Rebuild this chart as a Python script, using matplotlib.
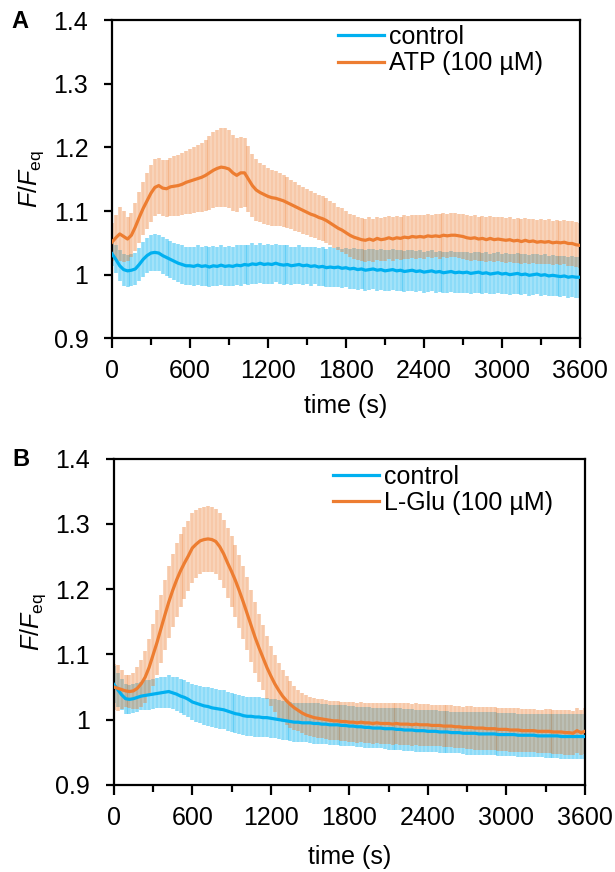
import numpy as np
import matplotlib.pyplot as plt
from matplotlib.ticker import MultipleLocator

plt.rcParams['font.family'] = ['Liberation Sans', 'DejaVu Sans']
plt.rcParams['mathtext.fontset'] = 'custom'
plt.rcParams['mathtext.rm'] = 'Liberation Sans'
plt.rcParams['mathtext.it'] = 'Liberation Sans:italic'

# sampling grid of the recordings (s)
time_s = np.arange(0, 3601, 30)

# panel A: control vs ATP (100 uM)
ctrl_a = [
    1.033, 1.024, 1.014, 1.008, 1.006, 1.007, 1.009, 1.016, 1.024, 1.030,
    1.034, 1.035, 1.034, 1.030, 1.027, 1.024, 1.021, 1.018, 1.016, 1.014,
    1.014, 1.013, 1.015, 1.013, 1.014, 1.012, 1.014, 1.013, 1.015, 1.013,
    1.014, 1.013, 1.015, 1.014, 1.016, 1.015, 1.017, 1.016, 1.018, 1.016,
    1.017, 1.016, 1.018, 1.016, 1.015, 1.016, 1.014, 1.015, 1.016, 1.014,
    1.015, 1.013, 1.014, 1.012, 1.013, 1.011, 1.012, 1.011, 1.012, 1.010,
    1.011, 1.009, 1.010, 1.008, 1.009, 1.007, 1.008, 1.009, 1.007, 1.008,
    1.006, 1.007, 1.008, 1.006, 1.007, 1.005, 1.006, 1.007, 1.005, 1.006,
    1.004, 1.005, 1.006, 1.004, 1.005, 1.003, 1.004, 1.005, 1.003, 1.004,
    1.003, 1.004, 1.002, 1.003, 1.004, 1.002, 1.003, 1.001, 1.002, 1.003,
    1.001, 1.002, 1.000, 1.001, 1.002, 1.000, 1.001, 0.999, 1.000, 1.001,
    0.999, 1.000, 0.998, 0.999, 0.998, 0.997, 0.998, 0.996, 0.997, 0.996,
    0.996]
ctrl_a_err = [
    .020, .022, .024, .025, .025, .025, .025, .026, .027, .028,
    .029, .029, .029, .029, .029, .029, .029, .030, .030, .030,
    .030, .030, .031, .031, .031, .031, .031, .031, .031, .031,
    .031, .031, .031, .032, .031, .031, .032, .031, .031, .031,
    .031, .031, .030, .030, .031, .030, .030, .029, .030, .030,
    .029, .030, .029, .030, .030, .030, .031, .031, .031, .031,
    .031, .032, .032, .032, .032, .032, .032, .032, .032, .032,
    .032, .032, .032, .032, .032, .032, .032, .032, .032, .032,
    .032, .032, .032, .032, .032, .032, .032, .032, .032, .032,
    .032, .032, .032, .032, .032, .032, .032, .032, .032, .032,
    .032, .032, .032, .032, .032, .032, .032, .032, .032, .032,
    .032, .032, .032, .032, .032, .032, .032, .032, .032, .032,
    .032]
atp_a = [
    1.051, 1.058, 1.064, 1.060, 1.056, 1.062, 1.075, 1.090, 1.104, 1.116,
    1.128, 1.137, 1.140, 1.136, 1.135, 1.138, 1.139, 1.140, 1.142, 1.145,
    1.147, 1.149, 1.151, 1.153, 1.156, 1.160, 1.164, 1.167, 1.169, 1.168,
    1.166, 1.160, 1.156, 1.160, 1.160, 1.150, 1.140, 1.133, 1.129, 1.126,
    1.123, 1.121, 1.120, 1.118, 1.116, 1.113, 1.110, 1.107, 1.104, 1.101,
    1.098, 1.095, 1.093, 1.090, 1.088, 1.085, 1.081, 1.077, 1.073, 1.070,
    1.066, 1.062, 1.059, 1.057, 1.055, 1.054, 1.056, 1.054, 1.057, 1.055,
    1.056, 1.058, 1.056, 1.058, 1.057, 1.059, 1.058, 1.060, 1.059, 1.060,
    1.059, 1.061, 1.060, 1.061, 1.060, 1.062, 1.061, 1.062, 1.062, 1.061,
    1.060, 1.058, 1.057, 1.058, 1.056, 1.057, 1.055, 1.057, 1.055, 1.056,
    1.055, 1.054, 1.055, 1.053, 1.054, 1.052, 1.054, 1.052, 1.053, 1.051,
    1.052, 1.051, 1.052, 1.050, 1.051, 1.050, 1.051, 1.049, 1.049, 1.047,
    1.046]
atp_a_err = [
    .030, .035, .042, .040, .035, .035, .038, .040, .042, .044,
    .045, .045, .044, .044, .045, .046, .047, .048, .049, .050,
    .051, .052, .053, .054, .056, .058, .060, .061, .062, .062,
    .062, .060, .058, .056, .054, .052, .050, .048, .047, .046,
    .045, .044, .043, .042, .041, .040, .039, .038, .037, .037,
    .036, .036, .035, .035, .035, .035, .035, .035, .034, .034,
    .034, .034, .034, .034, .034, .034, .034, .034, .034, .034,
    .034, .034, .034, .034, .034, .034, .034, .034, .034, .034,
    .034, .034, .034, .034, .035, .035, .035, .035, .035, .035,
    .035, .035, .035, .035, .035, .035, .035, .035, .035, .035,
    .035, .035, .035, .035, .035, .035, .035, .035, .035, .035,
    .035, .035, .035, .035, .035, .035, .035, .035, .035, .035,
    .035]

# panel B: control vs L-Glu (100 uM)
ctrl_b = [
    1.054, 1.046, 1.038, 1.032, 1.031, 1.032, 1.034, 1.036, 1.037, 1.038,
    1.039, 1.040, 1.041, 1.042, 1.043, 1.041, 1.039, 1.036, 1.034, 1.031,
    1.027, 1.025, 1.023, 1.021, 1.020, 1.018, 1.017, 1.016, 1.015, 1.013,
    1.011, 1.009, 1.008, 1.006, 1.005, 1.005, 1.004, 1.004, 1.003, 1.003,
    1.002, 1.001, 1.000, 0.999, 0.998, 0.997, 0.996, 0.996, 0.995, 0.995,
    0.995, 0.994, 0.994, 0.993, 0.993, 0.992, 0.992, 0.992, 0.991, 0.991,
    0.990, 0.990, 0.989, 0.989, 0.988, 0.988, 0.987, 0.987, 0.987, 0.986,
    0.986, 0.986, 0.985, 0.985, 0.984, 0.984, 0.984, 0.983, 0.983, 0.983,
    0.982, 0.982, 0.982, 0.981, 0.981, 0.981, 0.980, 0.980, 0.980, 0.979,
    0.979, 0.979, 0.979, 0.978, 0.978, 0.978, 0.978, 0.978, 0.977, 0.977,
    0.977, 0.977, 0.977, 0.976, 0.976, 0.976, 0.976, 0.976, 0.975, 0.975,
    0.975, 0.975, 0.975, 0.975, 0.974, 0.974, 0.974, 0.974, 0.974, 0.974,
    0.974]
ctrl_b_err = [
    .028, .026, .024, .023, .022, .022, .022, .022, .023, .023,
    .023, .023, .024, .024, .025, .025, .026, .026, .027, .027,
    .028, .028, .029, .029, .030, .030, .030, .030, .030, .030,
    .030, .030, .030, .030, .030, .030, .030, .030, .030, .030,
    .030, .030, .030, .030, .030, .030, .030, .030, .030, .030,
    .031, .031, .031, .031, .031, .031, .031, .031, .031, .031,
    .031, .031, .031, .031, .031, .031, .031, .031, .031, .031,
    .032, .032, .032, .032, .032, .032, .032, .032, .032, .032,
    .032, .032, .032, .032, .032, .032, .032, .032, .032, .032,
    .033, .033, .033, .033, .033, .033, .033, .033, .033, .033,
    .033, .033, .033, .033, .033, .033, .033, .033, .033, .033,
    .034, .034, .034, .034, .034, .034, .034, .034, .034, .034,
    .034]
glu_b = [
    1.050, 1.048, 1.046, 1.044, 1.043, 1.044, 1.048, 1.055, 1.065, 1.080,
    1.099, 1.118, 1.139, 1.160, 1.180, 1.198, 1.214, 1.228, 1.240, 1.251,
    1.263, 1.269, 1.274, 1.276, 1.277, 1.276, 1.273, 1.265, 1.254, 1.240,
    1.227, 1.213, 1.197, 1.180, 1.162, 1.144, 1.126, 1.110, 1.095, 1.080,
    1.067, 1.055, 1.045, 1.036, 1.029, 1.023, 1.018, 1.014, 1.010, 1.007,
    1.005, 1.003, 1.002, 1.001, 1.000, 0.999, 0.998, 0.998, 0.997, 0.997,
    0.996, 0.996, 0.995, 0.996, 0.995, 0.995, 0.994, 0.995, 0.994, 0.994,
    0.994, 0.993, 0.994, 0.993, 0.993, 0.993, 0.992, 0.993, 0.992, 0.992,
    0.992, 0.991, 0.991, 0.991, 0.990, 0.990, 0.990, 0.989, 0.989, 0.988,
    0.988, 0.988, 0.987, 0.987, 0.987, 0.986, 0.986, 0.986, 0.985, 0.985,
    0.985, 0.984, 0.984, 0.984, 0.983, 0.983, 0.983, 0.983, 0.982, 0.982,
    0.982, 0.982, 0.981, 0.981, 0.981, 0.980, 0.980, 0.979, 0.983, 0.980,
    0.982]
glu_b_err = [
    .035, .035, .030, .025, .025, .028, .032, .036, .040, .044,
    .048, .050, .052, .054, .055, .056, .056, .056, .055, .054,
    .053, .052, .051, .050, .050, .050, .050, .051, .052, .053,
    .054, .055, .056, .056, .056, .055, .054, .052, .050, .048,
    .046, .044, .042, .040, .038, .036, .034, .032, .031, .030,
    .030, .030, .030, .030, .030, .030, .030, .030, .030, .030,
    .031, .031, .031, .031, .031, .031, .031, .031, .031, .031,
    .032, .032, .032, .032, .032, .032, .032, .032, .032, .032,
    .032, .032, .032, .032, .032, .032, .032, .032, .032, .032,
    .033, .033, .033, .033, .033, .033, .033, .033, .033, .033,
    .033, .033, .033, .033, .033, .033, .033, .033, .033, .033,
    .034, .034, .034, .034, .034, .034, .034, .034, .034, .034,
    .035]

blue = '#00b0f0'
orange = '#ed7d31'
fs = 18

fig = plt.figure(figsize=(6.15, 8.72), dpi=100)
ax_a = fig.add_axes([0.182, 0.612, 0.761, 0.365])
ax_b = fig.add_axes([0.185, 0.100, 0.766, 0.374])

panels = [
    (ax_a, ctrl_a, ctrl_a_err, atp_a, atp_a_err, 'ATP (100 µM)', (0.483, 0.985), -0.175),
    (ax_b, ctrl_b, ctrl_b_err, glu_b, glu_b_err, 'L-Glu (100 µM)', (0.465, 0.982), -0.186),
]

for ax, c, ce, s, se, lab, leg_pos, xl_y in panels:
    ax.errorbar(time_s, c, yerr=ce, fmt='none', ecolor=blue, elinewidth=2.6, alpha=0.45, zorder=1)
    ax.errorbar(time_s, s, yerr=se, fmt='none', ecolor=orange, elinewidth=2.6, alpha=0.42, zorder=2)
    ax.plot(time_s, c, color=blue, lw=2.3, label='control', zorder=3)
    ax.plot(time_s, s, color=orange, lw=2.3, label=lab, zorder=4)

    ax.set_xlim(0, 3600)
    ax.set_ylim(0.9, 1.4)
    ax.xaxis.set_major_locator(MultipleLocator(600))
    ax.xaxis.set_minor_locator(MultipleLocator(300))
    ax.set_yticks([0.9, 1.0, 1.1, 1.2, 1.3, 1.4])
    ax.set_yticklabels(['0.9', '1', '1.1', '1.2', '1.3', '1.4'])
    ax.tick_params(axis='both', which='major', direction='out', width=1.6,
                   labelsize=fs, color='black')
    ax.tick_params(axis='x', which='major', length=7, pad=8)
    ax.tick_params(axis='x', which='minor', length=5, width=1.6)
    ax.tick_params(axis='y', which='major', length=6, pad=11)
    for sp in ax.spines.values():
        sp.set_linewidth(1.6)
        sp.set_color('black')
    ax.set_xlabel('time (s)', fontsize=fs)
    ax.xaxis.set_label_coords(0.5, xl_y)
    ax.set_ylabel(r'$\mathit{F/F}_{\mathrm{eq}}$', fontsize=fs)
    ax.yaxis.set_label_coords(-0.14, 0.5)
    ax.legend(loc='upper left', bbox_to_anchor=leg_pos, frameon=False, fontsize=fs,
              handlelength=1.85, handletextpad=0.2, labelspacing=0.1,
              borderpad=0, borderaxespad=0)

fig.text(11 / 615, 1 - 21 / 872, 'A', fontsize=17, fontweight='bold', ha='left', va='center')
fig.text(12 / 615, 1 - 459 / 872, 'B', fontsize=17, fontweight='bold', ha='left', va='center')

fig.savefig('out.png', dpi=100)
